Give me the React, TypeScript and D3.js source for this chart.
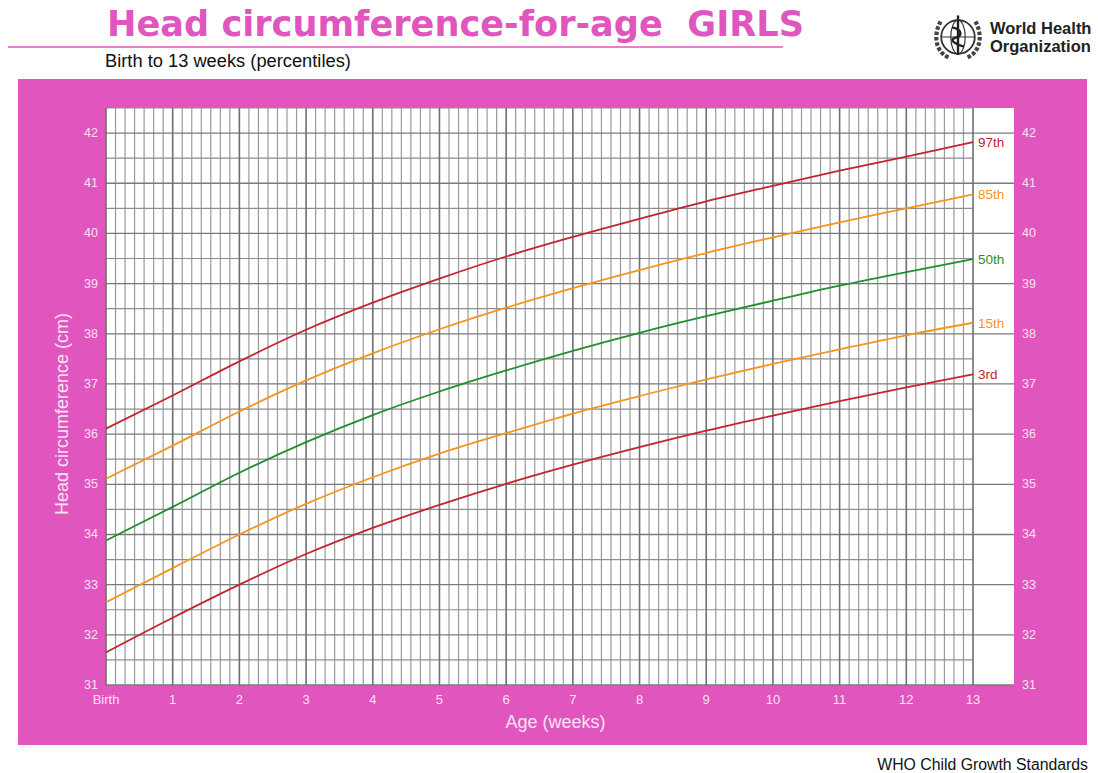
import React, { useRef, useEffect } from "react";
import * as d3 from "d3";

const weeks = [0, 1, 2, 3, 4, 5, 6, 7, 8, 9, 10, 11, 12, 13];
const p3 = [31.65, 32.34, 33.0, 33.61, 34.13, 34.59, 35.01, 35.39, 35.74, 36.07, 36.37, 36.66, 36.93, 37.19];
const p15 = [32.65, 33.33, 34.0, 34.61, 35.14, 35.61, 36.02, 36.41, 36.76, 37.09, 37.4, 37.69, 37.97, 38.22];
const p50 = [33.88, 34.55, 35.23, 35.84, 36.38, 36.85, 37.27, 37.66, 38.02, 38.35, 38.66, 38.96, 39.23, 39.49];
const p85 = [35.11, 35.77, 36.45, 37.07, 37.61, 38.09, 38.52, 38.91, 39.27, 39.61, 39.92, 40.22, 40.5, 40.78];
const p97 = [36.11, 36.77, 37.45, 38.08, 38.62, 39.1, 39.54, 39.93, 40.29, 40.64, 40.95, 41.25, 41.53, 41.82];
const seriesNames = ["97th", "85th", "50th", "15th", "3rd"];
const yTicks = [31, 32, 33, 34, 35, 36, 37, 38, 39, 40, 41, 42];
const xTickLabels = ["Birth", "1", "2", "3", "4", "5", "6", "7", "8", "9", "10", "11", "12", "13"];

const PINK = "#e056be";
const RED = "#c3252e";
const ORANGE = "#f7941d";
const GREEN = "#1f8f2f";
const LABEL = "#fbe3f4";

const App = () => {
  const svgRef = useRef(null);

  useEffect(() => {
    const svg = d3.select(svgRef.current);
    svg.selectAll("*").remove();

    const x = d3.scaleLinear().domain([0, 13]).range([106, 973]);
    const y = d3.scaleLinear().domain([31, 42.5]).range([685, 108]);
    const plotRight = 1014;

    // panel
    svg.append("rect").attr("x", 18).attr("y", 79).attr("width", 1069).attr("height", 666).attr("fill", PINK);
    svg.append("rect").attr("x", x(0)).attr("y", y(42.5)).attr("width", plotRight - x(0))
      .attr("height", y(31) - y(42.5)).attr("fill", "#fff");

    // grid: one line per day, half-cm and cm lines
    const days = d3.range(0, 13 * 7 + 1).map(d => d / 7);
    const g = svg.append("g");
    g.selectAll(".vday").data(days.filter((d, i) => i % 7 !== 0)).join("line")
      .attr("x1", d => x(d)).attr("x2", d => x(d)).attr("y1", y(42.5)).attr("y2", y(31))
      .attr("stroke", "#9a9a9a").attr("stroke-width", 1.2);
    const halves = d3.range(31.5, 42.6, 1);
    g.selectAll(".hhalf").data(halves).join("line")
      .attr("x1", x(0)).attr("x2", x(13)).attr("y1", d => y(d)).attr("y2", d => y(d))
      .attr("stroke", "#8e8e8e").attr("stroke-width", 1.2);
    g.selectAll(".hmaj").data(yTicks).join("line")
      .attr("x1", x(0)).attr("x2", plotRight).attr("y1", d => y(d)).attr("y2", d => y(d))
      .attr("stroke", "#7a7a7a").attr("stroke-width", 1.3);
    g.selectAll(".vweek").data(weeks).join("line")
      .attr("x1", d => x(d)).attr("x2", d => x(d)).attr("y1", y(42.5)).attr("y2", y(31))
      .attr("stroke", "#6f6f6f").attr("stroke-width", 1.6);

    // curves
    const series = [
      { name: seriesNames[0], values: p97, color: RED },
      { name: seriesNames[1], values: p85, color: ORANGE },
      { name: seriesNames[2], values: p50, color: GREEN },
      { name: seriesNames[3], values: p15, color: ORANGE },
      { name: seriesNames[4], values: p3, color: RED },
    ];
    const line = d3.line().x(d => x(d[0])).y(d => y(d[1])).curve(d3.curveMonotoneX);
    series.forEach(s => {
      svg.append("path").attr("d", line(weeks.map((w, i) => [w, s.values[i]])))
        .attr("fill", "none").attr("stroke", s.color).attr("stroke-width", 1.8);
      svg.append("text").attr("x", x(13) + 5).attr("y", y(s.values[s.values.length - 1]) + 5)
        .attr("fill", s.color).attr("font-size", 13.5).text(s.name);
    });

    // axes labels
    const font = "Liberation Sans, Arial, sans-serif";
    svg.selectAll(".yl").data(yTicks).join("text").attr("x", 98).attr("y", d => y(d) + 4)
      .attr("text-anchor", "end").attr("fill", LABEL).attr("font-size", 12.5).text(d => d);
    svg.selectAll(".yr").data(yTicks).join("text").attr("x", 1022).attr("y", d => y(d) + 4)
      .attr("fill", LABEL).attr("font-size", 12.5).text(d => d);
    svg.selectAll(".xl").data(weeks).join("text").attr("x", d => x(d)).attr("y", 704)
      .attr("text-anchor", "middle").attr("fill", LABEL).attr("font-size", 13)
      .text((d, i) => xTickLabels[i]);
    svg.append("text").attr("x", (x(0) + x(13)) / 2 + 16).attr("y", 728).attr("text-anchor", "middle")
      .attr("fill", LABEL).attr("font-size", 18).text("Age (weeks)");
    svg.append("text").attr("transform", "translate(68,414) rotate(-90)").attr("text-anchor", "middle")
      .attr("fill", LABEL).attr("font-size", 18).text("Head circumference (cm)");

    // header
    svg.append("text").attr("x", 107).attr("y", 36).attr("fill", PINK)
      .attr("font-size", 36).attr("font-weight", 900).attr("font-family", "DejaVu Sans, sans-serif")
      .attr("textLength", 697).attr("lengthAdjust", "spacingAndGlyphs")
      .style("white-space", "pre")
      .text("Head circumference-for-age  GIRLS");
    svg.append("line").attr("x1", 8).attr("x2", 783).attr("y1", 47).attr("y2", 47)
      .attr("stroke", PINK).attr("stroke-width", 1.5);
    svg.append("text").attr("x", 105).attr("y", 67).attr("fill", "#111").attr("font-size", 18.3)
      .text("Birth to 13 weeks (percentiles)");
    svg.append("text").attr("x", 1088).attr("y", 770).attr("text-anchor", "end")
      .attr("fill", "#111").attr("font-size", 15.8).text("WHO Child Growth Standards");

    // WHO logo
    const logo = svg.append("g").attr("transform", "translate(958,37) scale(1.2)");
    logo.append("circle").attr("r", 14).attr("fill", "none").attr("stroke", "#333").attr("stroke-width", 1.5);
    logo.append("ellipse").attr("rx", 6).attr("ry", 14).attr("fill", "none").attr("stroke", "#333");
    logo.append("line").attr("x1", -14).attr("x2", 14).attr("stroke", "#333");
    logo.append("line").attr("y1", -18).attr("y2", 15).attr("stroke", "#222").attr("stroke-width", 2);
    logo.append("path").attr("d", "M-5,-8 C4,-6 4,-1 -3,1 C-8,3 0,7 5,8").attr("fill", "none")
      .attr("stroke", "#222").attr("stroke-width", 2);
    [-1, 1].forEach(sgn => {
      logo.append("path")
        .attr("d", `M${sgn * 8},17 C${sgn * 19},12 ${sgn * 21},-2 ${sgn * 14},-14`)
        .attr("fill", "none").attr("stroke", "#444").attr("stroke-width", 3.5).attr("stroke-dasharray", "3,1.5");
    });
    svg.append("text").attr("x", 990).attr("y", 34).attr("fill", "#222").attr("font-size", 16.5)
      .attr("font-weight", "bold").text("World Health");
    svg.append("text").attr("x", 990).attr("y", 52).attr("fill", "#222").attr("font-size", 16.5)
      .attr("font-weight", "bold").text("Organization");

    svg.selectAll("text").filter(function () { return !this.getAttribute("font-family"); })
      .attr("font-family", font);
  }, []);

  return (
    <svg ref={svgRef} width="1098" height="773" viewBox="0 0 1098 773"
      style={{ position: "absolute", left: 0, top: 0, background: "#fff" }} />
  );
};

export default App;
